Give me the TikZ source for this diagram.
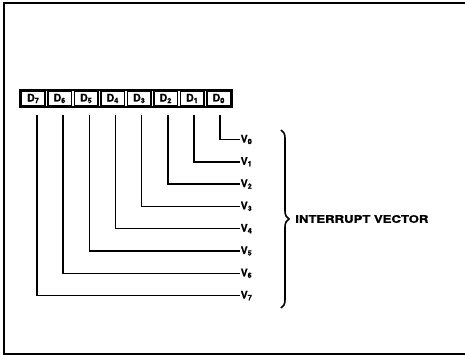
\documentclass[tikz,border=0pt]{standalone}
\usepackage{fontspec}
\newfontfamily\hb[FakeBold=1.2]{TeX Gyre Heros Bold}
\usetikzlibrary{decorations.pathreplacing}
\begin{document}
\begin{tikzpicture}[x=1pt,y=-1pt,
  lbl/.style={font=\hb\fontsize{10.5}{10.5}\selectfont, inner sep=0.5pt},
  cell/.style={draw, line width=1.1pt, minimum width=23.5pt, minimum height=13.5pt, inner sep=0pt,
    font=\hb\fontsize{10.5}{10.5}\selectfont},
  wire/.style={line width=1.5pt},
  frame/.style={line width=1.2pt}]
\useasboundingbox (0,0) rectangle (465,355);
\draw[frame] (470,3) -- (4,3) -- (4,354) -- (470,354);
\draw[frame] (20,90) rectangle (232,107);
\foreach \n in {0,...,7}{
  \pgfmathsetmacro{\cx}{33.25+26.5*(7-\n)}
  \node[cell] (d\n) at (\cx,98.5) {D\textsubscript{\n}};
  \pgfmathsetmacro{\vy}{139.5+22.3*\n}
  \node[lbl, anchor=west] (v\n) at (240,\vy) {V\textsubscript{\n}};
  \pgfmathsetmacro{\off}{3.75-0.35*(7-\n)}
  \draw[wire] ([shift={(\off,9.5)}]d\n.south) |- (v\n.west);
}
\coordinate (btop) at (281,130);
\coordinate (bbot) at (281,308);
\draw[line width=1.6pt, decorate, decoration={brace, amplitude=8pt}] (btop) -- (bbot)
  node[midway, right=13pt, lbl] (iv) {\scalebox{1.25}[1]{INTERRUPT VECTOR}};
\end{tikzpicture}
\end{document}
